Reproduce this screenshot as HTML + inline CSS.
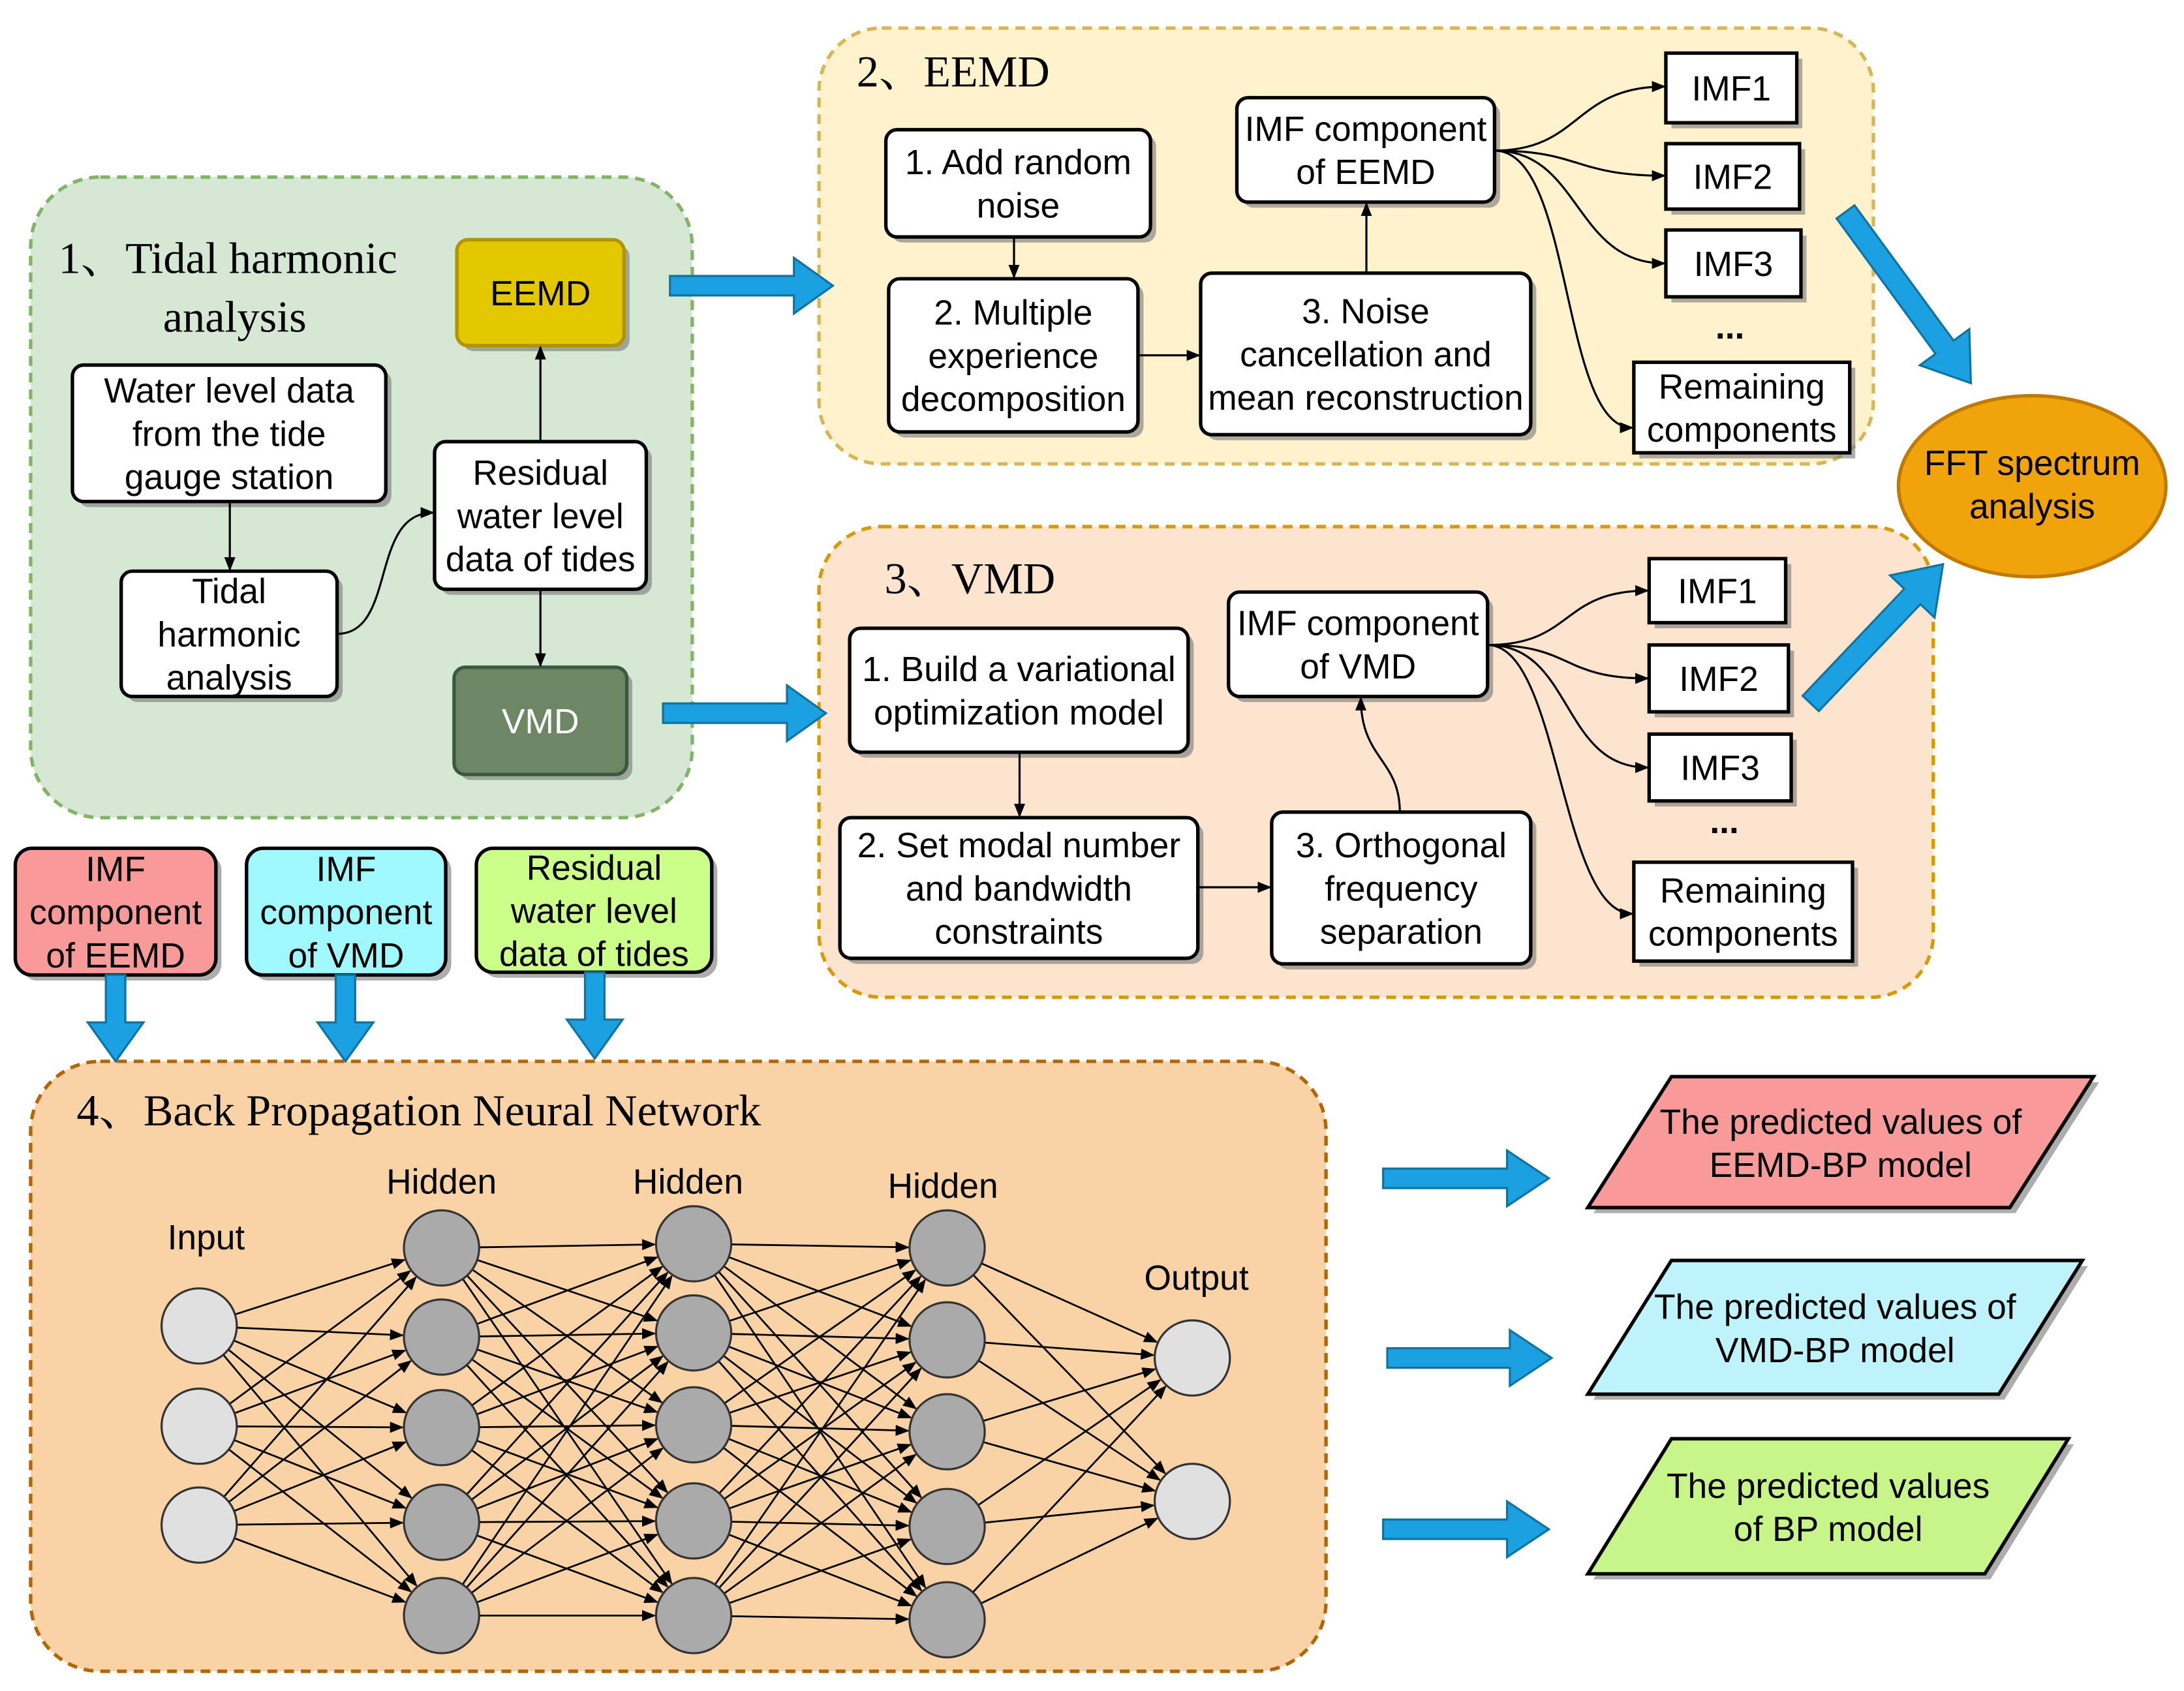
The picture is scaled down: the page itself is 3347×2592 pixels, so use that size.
<!DOCTYPE html>
<html><head><meta charset="utf-8"><style>
html,body{margin:0;padding:0;background:#fff}
svg{display:block}
text{font-family:"Liberation Sans",sans-serif;font-size:25px;fill:#000;text-anchor:middle}
.t{font-family:"Liberation Serif","Noto Serif CJK SC",serif;font-size:32px;text-anchor:start}
.n{font-size:25px}
</style></head><body>
<svg id="s" width="3347" height="2592" viewBox="0 0 1568 1214" xmlns="http://www.w3.org/2000/svg">
<defs>
<marker id="a" markerWidth="10" markerHeight="10" refX="9" refY="5" orient="auto" markerUnits="userSpaceOnUse"><path d="M0,1 L10,5 L0,9 Z" fill="#000"/></marker>
</defs>
<rect x="22" y="127" width="475" height="460" rx="50" fill="#d5e8d4" stroke="#82b366" stroke-width="2.5" stroke-dasharray="7,5"/>
<rect x="588" y="20" width="757" height="313" rx="45" fill="#fff2cc" stroke="#d6b656" stroke-width="2.5" stroke-dasharray="7,5"/>
<rect x="588" y="378" width="800" height="338" rx="45" fill="#fde4cf" stroke="#d79b00" stroke-width="2.5" stroke-dasharray="7,5"/>
<rect x="22" y="762" width="930" height="438" rx="50" fill="#f9d3a6" stroke="#b46504" stroke-width="2.5" stroke-dasharray="7,5"/>
<text class="t" x="42" y="196">1、Tidal harmonic</text>
<text class="t" x="117" y="238">analysis</text>
<text class="t" x="615" y="62">2、EEMD</text>
<text class="t" x="635" y="426">3、VMD</text>
<text class="t" x="55" y="808">4、Back Propagation Neural Network</text>
<g id="boxes"></g>
<g id="lines" fill="none" stroke="#000" stroke-width="1.5"></g>
<g id="nn"></g>
<g id="arr"></g>
<g id="txt"></g>
</svg>
<script>
const NS="http://www.w3.org/2000/svg";
function el(p,tag,at,txt){const e=document.createElementNS(NS,tag);for(const k in at)e.setAttribute(k,at[k]);if(txt!==undefined)e.textContent=txt;document.getElementById(p).appendChild(e);return e;}
function box(x1,y1,x2,y2,lines,o){o=o||{};const rx=o.rx===undefined?8:o.rx;
 el('boxes','rect',{x:x1+4,y:y1+4,width:x2-x1,height:y2-y1,rx:rx,fill:'#777',opacity:0.6});
 el('boxes','rect',{x:x1,y:y1,width:x2-x1,height:y2-y1,rx:rx,fill:o.fill||'#fff',stroke:o.stroke||'#000','stroke-width':2.5});
 const cx=(x1+x2)/2,cy=(y1+y2)/2,n=lines.length,lh=31;
 lines.forEach((l,i)=>el('txt','text',{x:cx,y:cy+(i-(n-1)/2)*lh+9,style:o.color?'fill:'+o.color:''},l));}
box(52,262,277,360,["Water level data","from the tide","gauge station"]);
box(87,410,242,500,["Tidal","harmonic","analysis"]);
box(312,317,464,423,["Residual","water level","data of tides"]);
box(328,172,448,248,["EEMD"],{fill:'#e3c800',stroke:'#b09500'});
box(326,479,450,556,["VMD"],{fill:'#6d8764',stroke:'#3a5a40',color:'#fff'});
box(636,93,826,170,["1. Add random","noise"]);
box(638,200,817,310,["2. Multiple","experience","decomposition"]);
box(862,196,1099,312,["3. Noise","cancellation and","mean reconstruction"]);
box(888,70,1073,145,["IMF component","of EEMD"]);
box(1196,38,1290,88,["IMF1"],{rx:0});
box(1196,103,1292,150,["IMF2"],{rx:0});
box(1196,165,1293,213,["IMF3"],{rx:0});
box(1173,260,1328,325,["Remaining","components"],{rx:0});
box(610,451,853,540,["1. Build a variational","optimization model"]);
box(603,587,860,688,["2. Set modal number","and bandwidth","constraints"]);
box(913,583,1099,692,["3. Orthogonal","frequency","separation"]);
box(882,425,1068,500,["IMF component","of VMD"]);
box(1184,401,1282,447,["IMF1"],{rx:0});
box(1184,463,1284,511,["IMF2"],{rx:0});
box(1184,527,1286,575,["IMF3"],{rx:0});
box(1173,619,1330,690,["Remaining","components"],{rx:0});
box(11,609,155,700,["IMF","component","of EEMD"],{fill:'#f8999a',stroke:'#000',rx:12});
box(177,609,320,700,["IMF","component","of VMD"],{fill:'#a0f8ff',rx:12});
box(342,609,511,698,["Residual","water level","data of tides"],{fill:'#ccff8a',rx:12});
el('txt','text',{x:1242,y:243,style:'font-weight:bold'},"...");
el('txt','text',{x:1238,y:598,style:'font-weight:bold'},"...");
el('boxes','ellipse',{cx:1459,cy:349,rx:96,ry:65,fill:'#f0a30a',stroke:'#c07a00','stroke-width':2.5});
el('txt','text',{x:1459,y:341},"FFT spectrum");el('txt','text',{x:1459,y:372},"analysis");
function para(x1,y1,x2,y2,f,l){const sk=60;
 el('boxes','polygon',{points:`${x1+4},${y2+4} ${x1+sk+4},${y1+4} ${x2+4},${y1+4} ${x2-sk+4},${y2+4}`,fill:'#777',opacity:0.6});
 el('boxes','polygon',{points:`${x1},${y2} ${x1+sk},${y1} ${x2},${y1} ${x2-sk},${y2}`,fill:f,stroke:'#000','stroke-width':2.5});
 const cx=(x1+x2)/2;el('txt','text',{x:cx,y:(y1+y2)/2-6},l[0]);el('txt','text',{x:cx,y:(y1+y2)/2+25},l[1]);}
para(1140,773,1503,867,'#f8999a',["The predicted values of","EEMD-BP model"]);
para(1140,905,1495,1001,'#bff3fb',["The predicted values of","VMD-BP model"]);
para(1140,1033,1485,1130,'#c8f58a',["The predicted values","of BP model"]);
function ln(d){el('lines','path',{d:d,'marker-end':'url(#a)'});}
ln("M165,360 L165,409");ln("M242,455 C285,455 265,368 311,368");
ln("M388,317 L388,249");ln("M388,423 L388,478");
ln("M728,170 L728,199");ln("M817,255 L861,255");ln("M981,196 L981,146");
[62,126,189].forEach(y=>ln(`M1073,108 C1135,108 1130,${y} 1195,${y}`));
ln("M1073,108 C1130,108 1120,307 1172,307");
ln("M732,540 L732,586");ln("M860,637 L912,637");
ln("M1005,583 C1005,545 977,545 977,501");
[424,487,551].forEach(y=>ln(`M1068,463 C1130,463 1120,${y} 1183,${y}`));
ln("M1068,463 C1120,463 1120,656 1172,656");
function barr(x1,y1,x2,y2,sw,hw,hl){const dx=x2-x1,dy=y2-y1,L=Math.hypot(dx,dy),ux=dx/L,uy=dy/L,px=-uy,py=ux;
 const bx=x2-ux*hl,by=y2-uy*hl;const P=[[x1+px*sw,y1+py*sw],[bx+px*sw,by+py*sw],[bx+px*hw,by+py*hw],[x2,y2],[bx-px*hw,by-py*hw],[bx-px*sw,by-py*sw],[x1-px*sw,y1-py*sw]];
 el('arr','polygon',{points:P.map(p=>p.join(',')).join(' '),fill:'#1ba1e2',stroke:'#10739e','stroke-width':1.5});}
barr(481,205,598,205,7,20,28);barr(476,512,593,512,7,20,28);
barr(1325,152,1415,275,8,22,32);barr(1300,505,1395,405,8,22,32);
barr(83,700,83,762,7,20,28);barr(248,700,248,762,7,20,28);barr(427,698,427,760,7,20,28);
barr(993,846,1112,846,7,20,30);barr(996,975,1114,975,7,20,30);barr(993,1098,1112,1098,7,20,30);
const L=[[143,[952,1024,1095],'#e0e0e0'],[317,[896,960,1025,1093,1160],'#aaa'],[498,[893,957,1023,1092,1160],'#aaa'],[680,[896,962,1028,1096,1163],'#aaa'],[856,[975,1078],'#e0e0e0']];
const r=27;
for(let i=0;i<4;i++){const [xa,ya]=L[i],[xb,yb]=L[i+1];ya.forEach(a=>yb.forEach(b=>{const dx=xb-xa,dy=b-a,d=Math.hypot(dx,dy);
 el('nn','line',{x1:xa+dx/d*r,y1:a+dy/d*r,x2:xb-dx/d*(r+1),y2:b-dy/d*(r+1),stroke:'#000','stroke-width':1.3,'marker-end':'url(#a)'});}));}
L.forEach(([x,ys,f])=>ys.forEach(y=>el('nn','circle',{cx:x,cy:y,r:r,fill:f,stroke:'#333','stroke-width':1.5})));
el('txt','text',{x:148,y:897,class:'n'},"Input");el('txt','text',{x:317,y:857,class:'n'},"Hidden");el('txt','text',{x:494,y:857,class:'n'},"Hidden");
el('txt','text',{x:677,y:860,class:'n'},"Hidden");el('txt','text',{x:859,y:926,class:'n'},"Output");
</script>
</body></html>
